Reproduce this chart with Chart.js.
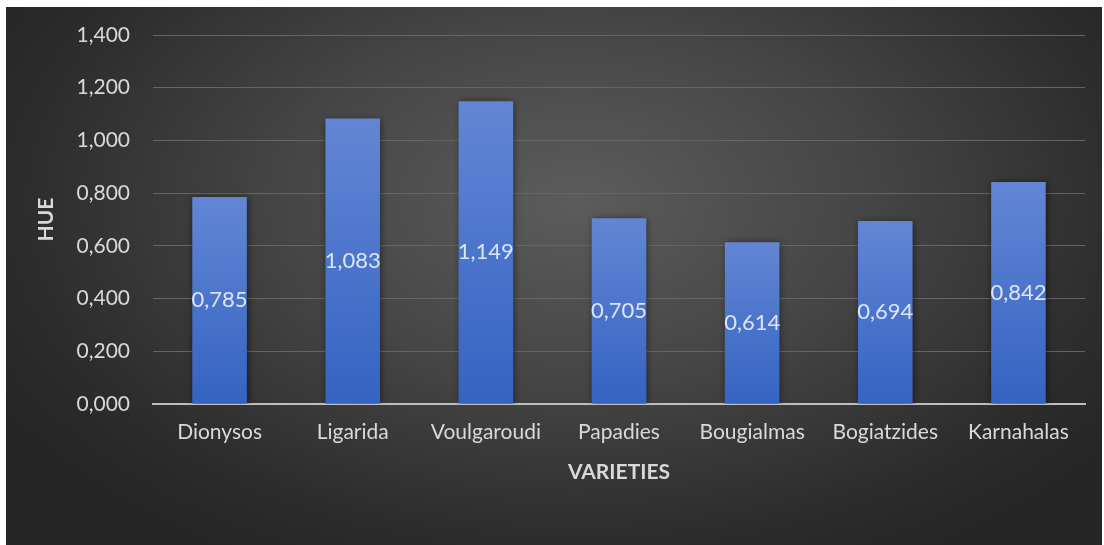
<!DOCTYPE html>
<html>
<head>
<meta charset="utf-8">
<script src="https://cdn.jsdelivr.net/npm/chart.js@4.4.1/dist/chart.umd.min.js"></script>
<style>
  html, body { margin: 0; padding: 0; background: #ffffff; }
  #panel {
    position: absolute;
    left: 6px; top: 7px;
    width: 1096px; height: 538px;
    background: radial-gradient(ellipse 60% 75% at 52% 36%, #5c5c5c 0%, #454545 45%, #2c2c2c 85%, #262626 100%);
  }
  #hueChart { display: block; }
</style>
</head>
<body>
<div id="panel"><canvas id="hueChart" width="1096" height="538"></canvas></div>
<script>
// Varieties and their HUE values
const varieties = ['Dionysos', 'Ligarida', 'Voulgaroudi', 'Papadies', 'Bougialmas', 'Bogiatzides', 'Karnahalas'];
const hueValues = [0.785, 1.083, 1.149, 0.705, 0.614, 0.694, 0.842];
const yTicks = [0, 0.2, 0.4, 0.6, 0.8, 1.0, 1.2, 1.4];

const FONT = 'Lato, "Open Sans", sans-serif';

// three decimals, comma as separator
const fmt = v => v.toFixed(3).replace('.', ',');

// vertical gradient per bar (from its top down to the base)
function barGradient(context) {
    const chart = context.chart;
    const area = chart.chartArea;
    if (!area) return '#4472c4';
    const yScale = chart.scales.y;
    const top = yScale.getPixelForValue(context.raw);
    const g = chart.ctx.createLinearGradient(0, top, 0, area.bottom);
    g.addColorStop(0, '#6286d4');
    g.addColorStop(0.5, '#4b75cb');
    g.addColorStop(1, '#3563c3');
    return g;
}

// soft shadow behind the bars
const barShadow = {
    id: 'barShadow',
    beforeDatasetsDraw(chart) {
        const ctx = chart.ctx;
        ctx.save();
        ctx.shadowColor = 'rgba(0,0,0,0.55)';
        ctx.shadowBlur = 7;
        ctx.shadowOffsetX = 1;
        ctx.shadowOffsetY = 1;
    },
    afterDatasetsDraw(chart) {
        chart.ctx.restore();
    }
};

// value labels in the middle of each bar
const valueLabels = {
    id: 'valueLabels',
    afterDatasetsDraw(chart) {
        const ctx = chart.ctx;
        const meta = chart.getDatasetMeta(0);
        ctx.save();
        ctx.font = '22px ' + FONT;
        ctx.fillStyle = '#dce5f5';
        ctx.textAlign = 'center';
        ctx.textBaseline = 'middle';
        meta.data.forEach((bar, i) => {
            const mid = (bar.y + bar.base) / 2;
            ctx.fillText(fmt(hueValues[i]), bar.x, mid);
        });
        ctx.restore();
    }
};

new Chart(document.getElementById('hueChart'), {
    type: 'bar',
    data: {
        labels: varieties,
        datasets: [{
            data: hueValues,
            backgroundColor: barGradient,
            borderWidth: 0,
            categoryPercentage: 1,
            barPercentage: 0.41
        }]
    },
    options: {
        responsive: false,
        animation: false,
        events: [],
        layout: { padding: { top: 28, right: 17, bottom: 0, left: 0 } },
        plugins: {
            legend: { display: false },
            tooltip: { enabled: false }
        },
        scales: {
            x: {
                grid: { display: false, drawTicks: false },
                border: { color: '#bfbfbf', width: 2 },
                ticks: { color: '#d9d9d9', font: { family: FONT, size: 21 }, padding: 16, maxRotation: 0 },
                title: {
                    display: true, text: 'VARIETIES', color: '#d9d9d9',
                    font: { family: FONT, size: 21, weight: 'bold' },
                    padding: { top: 0, bottom: 60 }
                },
                afterFit(scale) { scale.height = 141; }
            },
            y: {
                min: 0,
                max: 1.4,
                afterBuildTicks(scale) { scale.ticks = yTicks.map(v => ({ value: v })); },
                grid: { color: '#656565', lineWidth: 1, drawTicks: false },
                border: { display: false },
                ticks: {
                    color: '#d9d9d9', font: { family: FONT, size: 21 }, padding: 23,
                    callback: v => fmt(v)
                },
                title: {
                    display: true, text: 'HUE', color: '#d9d9d9',
                    font: { family: FONT, size: 21, weight: 'bold' },
                    padding: { top: 28, bottom: 0 }
                },
                afterFit(scale) {
                    scale.width = 147;
                    // the horizontal tick padding should not push the plot down
                    scale.paddingTop = 0;
                    scale.paddingBottom = 0;
                }
            }
        }
    },
    plugins: [barShadow, valueLabels]
});
</script>
</body>
</html>
